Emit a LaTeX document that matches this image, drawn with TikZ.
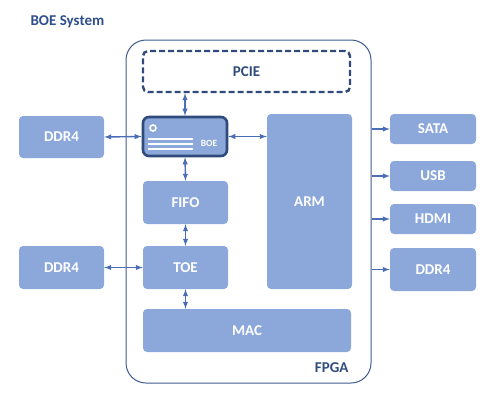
\documentclass[tikz,border=0pt]{standalone}
\usepackage{fontspec}
\setmainfont{Carlito}
\usepackage{tikz}

\definecolor{boxblue}{HTML}{8CA8DA}
\definecolor{navy}{HTML}{2F4B7C}
\definecolor{linkblue}{HTML}{4A6DB5}
\definecolor{frameblue}{HTML}{3E5A8E}
\definecolor{titleblue}{HTML}{2E4E8C}

\begin{document}
\begin{tikzpicture}[>=latex, x=1pt, y=-1pt,
    blk/.style={fill=boxblue, rounded corners=4pt, text=white, inner sep=0pt,
        font=\fontsize{15}{17}\selectfont\bfseries,
        minimum width=85pt, minimum height=43pt},
    link/.style={draw=linkblue, line width=1.4pt}]
    \useasboundingbox (0,0) rectangle (500,405);

    \node[anchor=west, text=titleblue, font=\fontsize{15}{17}\selectfont\bfseries] (title) at (27,22) {BOE System};

    % FPGA
    \node[draw=frameblue, line width=1pt, rounded corners=20pt, minimum width=245pt, minimum height=343pt, inner sep=0pt] (fpga) at (248.5,211.5) {};
    \node[anchor=east, text=navy, font=\fontsize{15}{17}\selectfont\bfseries] (fpgalabel) at (352,368) {FPGA};

    \node[draw=navy, dashed, dash pattern=on 6pt off 3pt, line width=2.4pt, rounded corners=5pt, text=navy,
        font=\fontsize{15}{17}\selectfont\bfseries, minimum width=207pt, minimum height=41pt] (pcie) at (246.5,71.5) {PCIE};

    % BOE
    \node[blk, draw=navy, line width=2.6pt, rounded corners=6pt, minimum width=84pt, minimum height=39pt] (boe) at (185,136.5) {};
    \draw[white, line width=1.6pt] (153,128) circle (3pt); % значок
    \foreach \yy in {139,144,149}
        \draw[white, line width=2pt] (148,\yy) -- (193,\yy);
    \node[text=white, font=\fontsize{9.5}{11}\selectfont\bfseries] (boelabel) at (209,143) {BOE};

    \node[blk] (fifo) at (185.5,202.5) {FIFO};
    \node[blk] (toe) at (185.5,267.5) {TOE};
    \node[blk, minimum width=208pt] (mac) at (247,330.5) {MAC};
    \node[blk, minimum height=175pt] (arm) at (309.5,201.5) {ARM};

    % DDR4 слева
    \node[blk, minimum height=42pt] (ddrA) at (61.5,137) {DDR4};
    \node[blk] (ddrB) at (61.5,267.5) {DDR4};

    % справа
    \node[blk, minimum width=86pt, minimum height=30pt] (sata) at (433,129) {SATA};
    \node[blk, minimum width=86pt, minimum height=30pt] (usb) at (433,176) {USB};
    \node[blk, minimum width=86pt, minimum height=30pt] (hdmi) at (433,219) {HDMI};
    \node[blk, minimum width=86pt, minimum height=43pt] (ddrC) at (433,269.5) {DDR4};

    % связи
    \draw[link, <->] (ddrA.east) -- (boe.west);
    \draw[link, <->] (boe.north) -- (boe.north |- pcie.south);
    \draw[link, <->] (boe.east) -- (boe.east -| arm.west);
    \draw[link, <->] (boe.south) -- (fifo.north);
    \draw[link, <->] (fifo.south) -- (toe.north);
    \draw[link, <->] (ddrB.east) -- (toe.west);
    \draw[link, <->] (toe.south) -- (toe.south |- mac.north);
    \foreach \dev in {sata,usb,hdmi,ddrC}
        \draw[link, ->] (fpga.east |- \dev.west) -- (\dev.west);
\end{tikzpicture}
\end{document}
